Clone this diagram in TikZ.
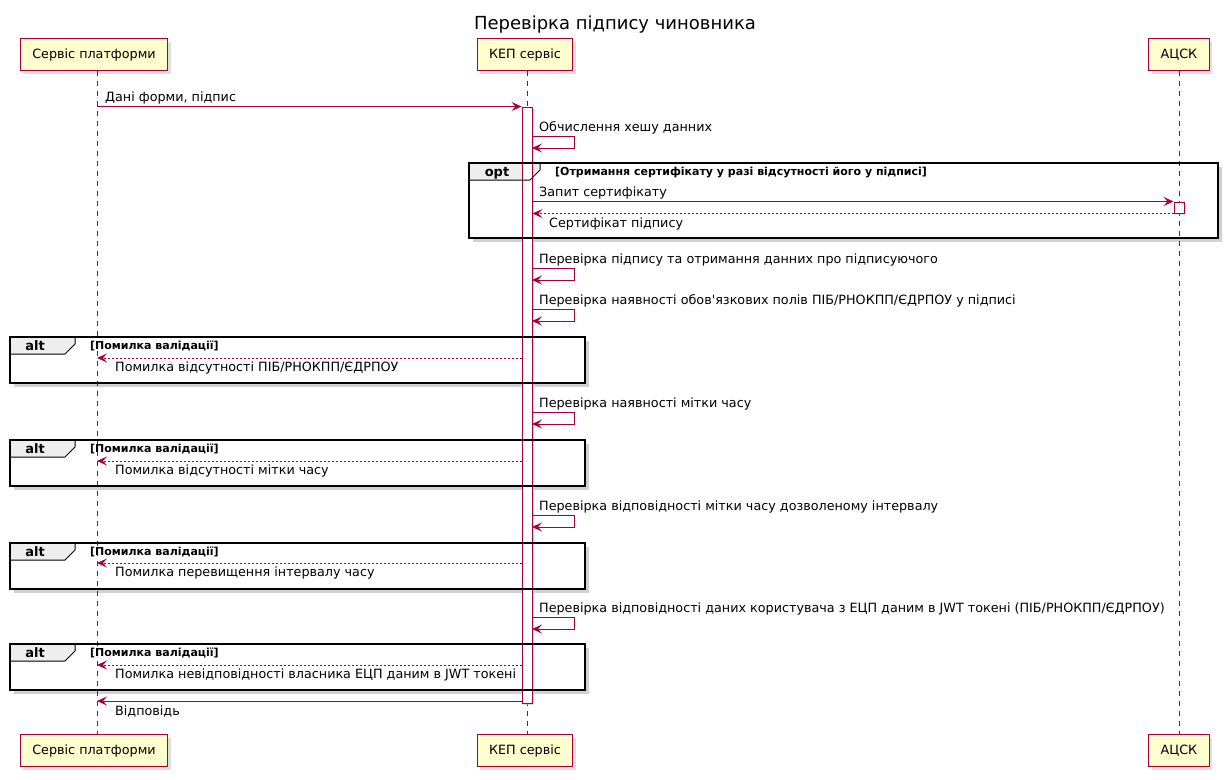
\documentclass[tikz,border=0pt]{standalone}
\usepackage{fontspec}
\setmainfont{DejaVu Sans}[Ligatures=TeXOff]
\usetikzlibrary{positioning, arrows.meta, shadows}
\definecolor{umlred}{HTML}{A80036}
\definecolor{umlyellow}{HTML}{FEFECE}
\definecolor{tabgrey}{HTML}{EEEEEE}
\pgfdeclarelayer{bg}
\pgfsetlayers{bg,main}

\begin{document}
\begin{tikzpicture}[x=1pt, y=-1pt, every node/.style={font=\fontsize{12.75}{15}\selectfont, inner sep=0pt},
    actor/.style={draw=umlred, fill=umlyellow, line width=1.2pt, minimum height=32pt, inner xsep=12pt,
        drop shadow={shadow xshift=3pt, shadow yshift=-3pt, fill=black!25}},
    bar/.style={draw=umlred, fill=white, line width=1pt, minimum width=10pt,
        drop shadow={shadow xshift=2pt, shadow yshift=-2pt, fill=black!25}},
    life/.style={draw=umlred, line width=1pt, dash pattern=on 5pt off 5pt},
    msg/.style={draw=umlred, line width=1pt, -{Stealth[length=10pt, width=9pt, inset=4pt]}},
    reply/.style={msg, dash pattern=on 2pt off 2pt},
    grpframe/.style={draw=black, line width=1.5pt},
    tabline/.style={draw=black, line width=1pt},
    fshade/.style={draw=black!18, line width=3pt},
    tabtxt/.style={font=\bfseries\fontsize{13}{15}\selectfont, anchor=base},
    guard/.style={font=\bfseries\fontsize{11}{13}\selectfont, anchor=base west},
    lbl/.style={anchor=base west}]
    \useasboundingbox (0,0) rectangle (1231,779);

    \node[font=\fontsize{18}{20}\selectfont, anchor=base] (title) at (615,29) {Перевірка підпису чиновника};

    % participants, top and bottom
    \node[actor] (pft) at (94,54.5) {Сервіс платформи};
    \node[actor] (kept) at (525,54.5) {КЕП сервіс};
    \node[actor] (acskt) at (1179,54.5) {АЦСК};
    \node[actor] (pfb) at (94,750.5) {Сервіс платформи};
    \node[actor] (kepb) at (525,750.5) {КЕП сервіс};
    \node[actor] (acskb) at (1179,750.5) {АЦСК};
    \coordinate (pfl) at (97,71);
    \coordinate (kepl) at (527,71);
    \draw[life] (pfl) -- (pfl |- pfb.north);
    \draw[life] (kepl) -- (kepl |- kepb.north);
    \draw[life] (acskt.south) -- (acskb.north);

    % activation bars
    \node[bar, minimum height=596pt] (kbar) at (527,405) {};
    \node[bar, minimum height=11pt] (abar) at (1179,207.5) {};

    \draw[msg] (pfl |- kbar.north) -- (kbar.north west);
    \node[lbl] (m1) at (105,101) {Дані форми, підпис};

    % self checks
    \foreach \ys/\txt [count=\i] in {136/{Обчислення хешу данних},
        268/{Перевірка підпису та отримання данних про підписуючого},
        309/{Перевірка наявності обов'язкових полів ПІБ/РНОКПП/ЄДРПОУ у підписі},
        412/{Перевірка наявності мітки часу},
        515/{Перевірка відповідності мітки часу дозволеному інтервалу},
        617/{Перевірка відповідності даних користувача з ЕЦП даним в JWT токені (ПІБ/РНОКПП/ЄДРПОУ)}} {
        \coordinate (chk\i) at (532,\ys);
        \draw[msg] (chk\i) -- ++(42,0) -- ++(0,12) -- ++(-42,0);
        \node[lbl] (chkl\i) at (539,\ys-5) {\txt};
    }

    % opt
    \begin{pgfonlayer}{bg}
        \draw[fshade] (473,240.5) -- (1220.5,240.5) -- (1220.5,167);
        \fill[tabgrey] (469,163) -- (540,163) -- (540,170) -- (530,180) -- (469,180) -- cycle;
    \end{pgfonlayer}
    \draw[grpframe] (469,163) rectangle (1218,238);
    \draw[tabline] (540,163) -- (540,170) -- (530,180) -- (469,180);
    \node[tabtxt] (optl) at (497,176) {opt};
    \node[guard] (optg) at (555,175) {[Отримання сертифікату у разі відсутності його у підписі]};
    \draw[msg] (kbar.east |- abar.north) -- (abar.north west);
    \node[lbl] (q1) at (539,196.5) {Запит сертифікату};
    \draw[reply] (abar.south west) -- (kbar.east |- abar.south);
    \node[lbl] (q2) at (549,227) {Сертифікат підпису};

    % alt
    \foreach \ty/\ry/\txt [count=\i] in {337/358/{Помилка відсутності ПІБ/РНОКПП/ЄДРПОУ},
        440/461/{Помилка відсутності мітки часу},
        543/563/{Помилка перевищення інтервалу часу},
        644/665/{Помилка невідповідності власника ЕЦП даним в JWT токені}} {
        \begin{pgfonlayer}{bg}
            \draw[fshade] (14,\ty+48.5) -- (587.5,\ty+48.5) -- (587.5,\ty+4);
            \fill[tabgrey] (10,\ty) -- (75,\ty) -- (75,\ty+7) -- (65,\ty+17) -- (10,\ty+17) -- cycle;
        \end{pgfonlayer}
        \draw[grpframe] (10,\ty) rectangle (585,\ty+46);
        \draw[tabline] (75,\ty) -- (75,\ty+7) -- (65,\ty+17) -- (10,\ty+17);
        \node[tabtxt] (altl\i) at (35,\ty+13) {alt};
        \node[guard] (altg\i) at (90,\ty+12) {[Помилка валідації]};
        \coordinate (err\i) at (522,\ry);
        \draw[reply] (err\i) -- (err\i -| pfl);
        \node[lbl] (errl\i) at (115,\ry+13.5) {\txt};
    }

    \coordinate (resp) at (522,701);
    \draw[msg] (resp) -- (resp -| pfl);
    \node[lbl] (respl) at (115,715) {Відповідь};
\end{tikzpicture}
\end{document}
